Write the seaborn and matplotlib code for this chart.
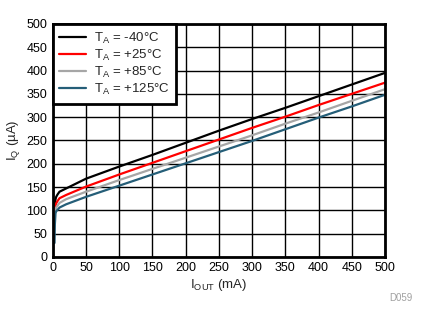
import matplotlib
matplotlib.use("Agg")
import matplotlib.pyplot as plt
import seaborn as sns
import pandas as pd
import numpy as np

iout = [2.5, 3, 4, 5, 7, 10, 20, 50, 100, 150, 200, 250, 300, 350, 400, 450, 500]
iq_m40 = [100, 115, 124, 129, 134, 140, 147, 168, 194, 219, 245, 271, 296, 320, 345, 370, 395]
iq_p25 = [88, 100, 110, 115, 120, 126, 133, 151, 177, 202, 227, 252, 277, 301, 326, 350, 374]
iq_p85 = [80, 92, 102, 106, 110, 116, 124, 140, 165, 189, 213, 237, 261, 286, 310, 335, 360]
iq_p125 = [30, 70, 94, 98, 101, 106, 113, 129, 153, 177, 201, 225, 249, 274, 299, 323, 348]
labels = [r'T$_{\mathregular{A}}$ = -40°C', r'T$_{\mathregular{A}}$ = +25°C',
          r'T$_{\mathregular{A}}$ = +85°C', r'T$_{\mathregular{A}}$ = +125°C']
colors = ['#000000', '#ff0000', '#a6a6a6', '#255e78']
xticks = list(range(0, 501, 50))
yticks = list(range(0, 501, 50))

frames = []
for lab, vals in zip(labels, [iq_m40, iq_p25, iq_p85, iq_p125]):
    frames.append(pd.DataFrame({'x': iout, 'y': vals, 'T': lab}))
df = pd.concat(frames, ignore_index=True)

sns.set_style("white")
plt.rcParams['font.family'] = ['Liberation Sans', 'DejaVu Sans']
plt.rcParams['mathtext.fontset'] = 'custom'
plt.rcParams['mathtext.rm'] = 'Liberation Sans'
plt.rcParams['mathtext.it'] = 'Liberation Sans'

fig = plt.figure(figsize=(4.23, 3.24), dpi=100)
ax = fig.add_axes([0.125, 0.207, 0.785, 0.719])
sns.lineplot(data=df, x='x', y='y', hue='T', palette=dict(zip(labels, colors)),
             linewidth=1.6, ax=ax, legend=True)

ax.set_xlim(0, 500)
ax.set_ylim(0, 500)
ax.set_xticks(xticks)
ax.set_yticks(yticks)
ax.tick_params(labelsize=9, length=0, pad=4, colors='black')
ax.grid(True, color='black', linewidth=1.0)
ax.set_axisbelow(True)
for s in ax.spines.values():
    s.set_color('black')
    s.set_linewidth(2)
    s.set_visible(True)
ax.set_xlabel(r'I$_{\mathregular{OUT}}$ (mA)', fontsize=9.5, labelpad=2)
ax.set_ylabel(r'I$_{\mathregular{Q}}$ (µA)', fontsize=9.5, labelpad=3)

leg = ax.legend(loc='upper left', fontsize=9.5, frameon=True, fancybox=False,
                borderaxespad=0, handlelength=2.0, handletextpad=0.6,
                labelspacing=0.15, borderpad=0.5)
leg.get_frame().set_edgecolor('black')
leg.get_frame().set_linewidth(2)
leg.get_frame().set_alpha(1)

fig.text(0.975, 0.08, 'D059', fontsize=7, color='#a0a0a0', ha='right', va='center')
fig.savefig('out.png', dpi=100)
